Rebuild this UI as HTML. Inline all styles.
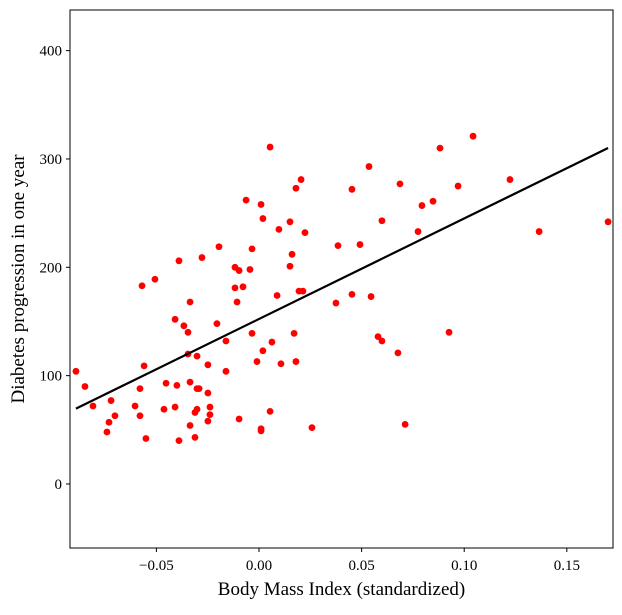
<!DOCTYPE html>
<html><head><meta charset="utf-8"><style>
html,body{margin:0;padding:0;background:#fff;}
svg text{font-family:"Liberation Serif","DejaVu Serif",serif;fill:#000;}
</style></head><body>
<svg id="chart" width="622" height="610" xmlns="http://www.w3.org/2000/svg">
<g id="marks"></g>
<g id="axes"></g>
</svg>
<script>
const bmi = [-0.0892,-0.0848,-0.0809,-0.0721,-0.0702,-0.0731,-0.0741,-0.0580,-0.0560,-0.0604,-0.0580,-0.0551,-0.0570,-0.0507,-0.0390,-0.0409,-0.0366,-0.0346,-0.0336,-0.0346,-0.0302,-0.0453,-0.0400,-0.0336,-0.0302,-0.0292,-0.0249,-0.0463,-0.0409,-0.0302,-0.0312,-0.0239,-0.0239,-0.0249,-0.0336,-0.0312,-0.0390,-0.0278,-0.0195,-0.0205,-0.0161,-0.0249,-0.0161,-0.0063,0.0010,0.0019,0.0054,0.0180,0.0205,0.0151,0.0097,0.0224,-0.0034,-0.0117,-0.0097,-0.0044,0.0161,0.0151,-0.0117,-0.0078,-0.0107,0.0088,0.0195,0.0214,0.0375,0.0385,-0.0034,0.0063,0.0019,0.0171,-0.0010,0.0107,0.0180,-0.0097,0.0054,0.0010,0.0010,0.0258,0.0453,0.0536,0.0687,0.0599,0.0492,0.0453,0.0546,0.0580,0.0599,0.0677,0.0712,0.0926,0.0775,0.0794,0.0848,0.0882,0.0970,0.1043,0.1223,0.1365,0.1701];
const progression = [104,90,72,77,63,57,48,88,109,72,63,42,183,189,206,152,146,140,168,120,118,93,91,94,88,88,84,69,71,69,66,71,64,58,54,43,40,209,219,148,132,110,104,262,258,245,311,273,281,242,235,232,217,200,197,198,212,201,181,182,168,174,178,178,167,220,139,131,123,139,113,111,113,60,67,51,49,52,272,293,277,243,221,175,173,136,132,121,55,140,233,257,261,310,275,321,281,233,242];
const fitIntercept = 152.3;
const fitSlope = 928;
const xTicks = [-0.05,0.00,0.05,0.10,0.15];
const xTickLabels = ["\u22120.05","0.00","0.05","0.10","0.15"];
const yTicks = [0,100,200,300,400];
const yTickLabels = ["0","100","200","300","400"];

const L=70,R=613,T=10,B=548;
const xMin=-0.0921,xMax=0.1725,yMin=-59.1,yMax=437.5;
const sx=v=>L+(v-xMin)/(xMax-xMin)*(R-L);
const sy=v=>B-(v-yMin)/(yMax-yMin)*(B-T);
const NS="http://www.w3.org/2000/svg";
const marks=document.getElementById('marks');
const axes=document.getElementById('axes');
function mk(tag,attrs,parent){const e=document.createElementNS(NS,tag);for(const k in attrs)e.setAttribute(k,attrs[k]);parent.appendChild(e);return e;}

for(let i=0;i<bmi.length;i++){
  const c=mk('circle',{cx:sx(bmi[i]),cy:sy(progression[i]),r:3.4,fill:'#ff0000'},marks);
  
  
}
const x0=Math.min(...bmi),x1=Math.max(...bmi);
const ln=mk('line',{x1:sx(x0),y1:sy(fitIntercept+fitSlope*x0),x2:sx(x1),y2:sy(fitIntercept+fitSlope*x1),stroke:'#000','stroke-width':2.2},marks);



const fr=mk('rect',{x:L,y:T,width:R-L,height:B-T,fill:'none',stroke:'#000','stroke-width':1},axes);


xTicks.forEach((v,i)=>{
  const x=sx(v);
  const t=mk('line',{x1:x,y1:B,x2:x,y2:B+4,stroke:'#000','stroke-width':1},axes);
  
  
  const tx=mk('text',{x:x,y:B+22,'text-anchor':'middle','font-size':'15px'},axes);
  tx.textContent=xTickLabels[i];
  
  
});
yTicks.forEach((v,i)=>{
  const y=sy(v);
  const t=mk('line',{x1:L-4,y1:y,x2:L,y2:y,stroke:'#000','stroke-width':1},axes);
  
  
  const tx=mk('text',{x:L-8,y:y+5,'text-anchor':'end','font-size':'15px'},axes);
  tx.textContent=yTickLabels[i];
  
  
});
const xt=mk('text',{x:(L+R)/2,y:595,'text-anchor':'middle','font-size':'19px'},axes);
xt.textContent='Body Mass Index (standardized)';


const yt=mk('text',{x:0,y:0,'text-anchor':'middle','font-size':'19px',transform:'translate(24,'+((T+B)/2)+') rotate(-90)'},axes);
yt.textContent='Diabetes progression in one year';


</script>
</body></html>
